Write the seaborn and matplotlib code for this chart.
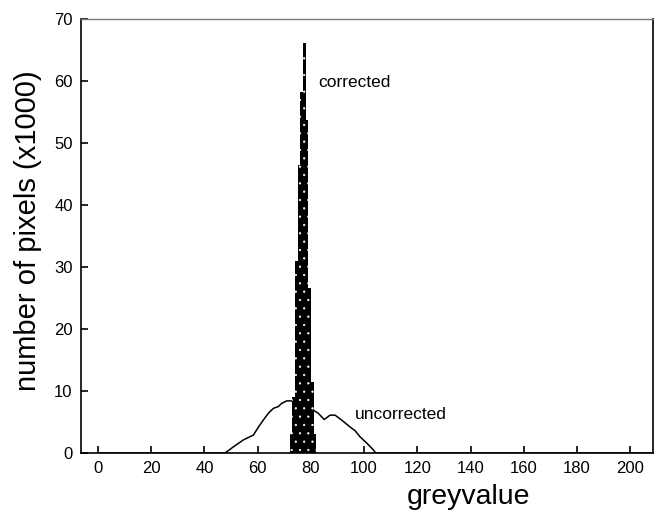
import matplotlib
matplotlib.use("Agg")
import matplotlib.pyplot as plt
import seaborn as sns
import pandas as pd

# corrected histogram (bin left edges, counts x1000)
corrected_bins = [72, 73, 74, 75, 76, 77, 78, 79, 80, 81]
corrected_counts = [3.0, 9.0, 31.0, 46.5, 58.2, 66.2, 53.7, 26.6, 11.5, 3.0]

# uncorrected histogram outline (greyvalue, counts x1000)
uncorr_x = [0, 47.7, 50.9, 54.6, 58.4, 60.3, 62.1, 64.0, 65.9, 67.8, 69.0, 70.9, 72.8,
            75.0, 77.0, 79.0, 80.9, 82.8, 85.0, 87.2, 89.1, 91.6, 94.7, 96.6, 98.5,
            101.0, 103.5, 104.3, 210]
uncorr_y = [0, 0, 1.0, 2.1, 2.9, 4.2, 5.3, 6.4, 7.2, 7.5, 8.0, 8.4, 8.4,
            8.6, 8.5, 7.8, 6.9, 6.4, 5.4, 6.1, 6.1, 5.3, 4.2, 3.6, 2.6,
            1.6, 0.5, 0, 0]

x_ticks = list(range(0, 201, 20))
y_ticks = list(range(0, 71, 10))

sns.set_style("ticks")
plt.rcParams['font.family'] = ['Liberation Sans', 'DejaVu Sans']
plt.rcParams['hatch.linewidth'] = 0.4
plt.rcParams['text.color'] = 'black'
plt.rcParams['axes.labelcolor'] = 'black'

corr_df = pd.DataFrame({'greyvalue': [b + 0.5 for b in corrected_bins], 'count': corrected_counts})

fig = plt.figure(figsize=(6.55, 5.15), dpi=100)
ax = fig.add_axes([0.1237, 0.1204, 0.8733, 0.8427])

sns.lineplot(x=uncorr_x, y=uncorr_y, color='black', linewidth=1.1, ax=ax, zorder=2)
sns.histplot(data=corr_df, x='greyvalue', weights='count', binwidth=1, binrange=(72, 82),
             color='black', alpha=1, linewidth=0, ax=ax, zorder=3)
for p in ax.patches:
    p.set_hatch('..')
    p.set_edgecolor('white')
    p.set_linewidth(0)

ax.set_xlim(-6.4, 208.6)
ax.set_ylim(0, 70)
ax.set_xticks(x_ticks)
ax.set_yticks(y_ticks)
ax.tick_params(direction='in', length=5, width=1.2, labelsize=12, pad=6,
               colors='black', labelcolor='black')

for side in ['left', 'bottom', 'right']:
    ax.spines[side].set_color('black')
    ax.spines[side].set_linewidth(1.2)
ax.spines['top'].set_color('#777777')
ax.spines['top'].set_linewidth(1.0)

ax.set_xlabel('greyvalue', fontsize=20.5, va='center', color='black')
ax.xaxis.set_label_coords(0.678, -0.101)
ax.set_ylabel('number of pixels (x1000)', fontsize=21, va='center', color='black')
ax.yaxis.set_label_coords(-0.093, 0.512)

ax.text(82.7, 59.7, 'corrected', fontsize=12.5, va='center', ha='left', color='black')
ax.text(96.6, 6.2, 'uncorrected', fontsize=12.5, va='center', ha='left', color='black')

fig.savefig('out.png', dpi=100)
